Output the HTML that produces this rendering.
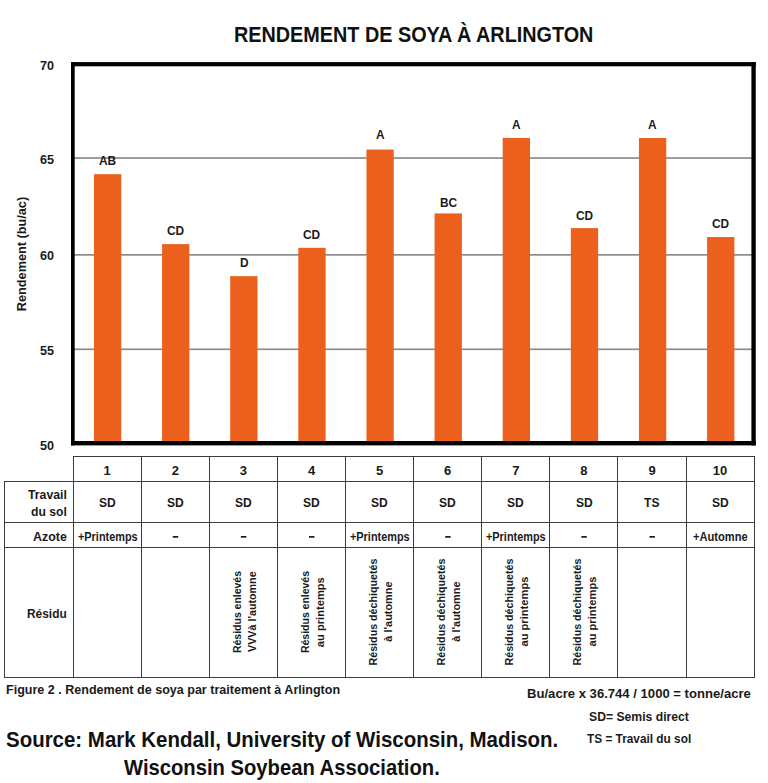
<!DOCTYPE html>
<html><head><meta charset="utf-8"><title>Rendement de soya à Arlington</title>
<style>
html,body{margin:0;padding:0;background:#fff}
body{width:768px;height:783px;position:relative;overflow:hidden;font-family:"Liberation Sans",sans-serif;color:#1a1a1a;font-weight:700}
.t{position:absolute;white-space:nowrap;transform-origin:left center;display:block}
.g{position:absolute;left:0;top:0;display:block}
.rot span{display:inline-block;transform-origin:center}
.rot{position:absolute;white-space:nowrap;font-size:10.5px;line-height:14.6px;text-align:center;transform:translate(-50%,-50%) rotate(-90deg);transform-origin:center}
</style></head><body>
<svg class="g" width="768" height="783" viewBox="0 0 768 783">
<rect x="74.00" y="157.20" width="678.00" height="1.70" fill="#8c8c8c"/>
<rect x="74.00" y="254.00" width="678.00" height="1.70" fill="#8c8c8c"/>
<rect x="74.00" y="348.45" width="678.00" height="1.70" fill="#8c8c8c"/>
<rect x="93.95" y="174.20" width="27.30" height="268.80" fill="#eb601c"/>
<rect x="162.07" y="244.10" width="27.30" height="198.90" fill="#eb601c"/>
<rect x="230.20" y="276.15" width="27.30" height="166.85" fill="#eb601c"/>
<rect x="298.32" y="247.80" width="27.30" height="195.20" fill="#eb601c"/>
<rect x="366.45" y="149.55" width="27.30" height="293.45" fill="#eb601c"/>
<rect x="434.57" y="213.40" width="27.30" height="229.60" fill="#eb601c"/>
<rect x="502.70" y="137.90" width="27.30" height="305.10" fill="#eb601c"/>
<rect x="570.83" y="228.10" width="27.30" height="214.90" fill="#eb601c"/>
<rect x="638.95" y="138.00" width="27.30" height="305.00" fill="#eb601c"/>
<rect x="707.08" y="237.05" width="27.30" height="205.95" fill="#eb601c"/>
<rect x="71.00" y="62.10" width="3.70" height="383.30" fill="#000"/>
<rect x="751.40" y="62.10" width="4.35" height="383.30" fill="#000"/>
<rect x="71.00" y="62.10" width="684.75" height="4.20" fill="#000"/>
<rect x="71.00" y="441.00" width="684.75" height="4.40" fill="#000"/>
<rect x="73.00" y="456.00" width="682.00" height="1.00" fill="#3c3c3c"/>
<rect x="4.00" y="481.00" width="751.00" height="1.00" fill="#3c3c3c"/>
<rect x="4.00" y="522.00" width="751.00" height="1.00" fill="#3c3c3c"/>
<rect x="4.00" y="547.00" width="751.00" height="1.00" fill="#3c3c3c"/>
<rect x="4.00" y="677.00" width="751.00" height="1.00" fill="#3c3c3c"/>
<rect x="4.00" y="481.00" width="1.00" height="197.00" fill="#3c3c3c"/>
<rect x="73.00" y="456.00" width="1.00" height="222.00" fill="#3c3c3c"/>
<rect x="141.00" y="456.00" width="1.00" height="222.00" fill="#3c3c3c"/>
<rect x="209.00" y="456.00" width="1.00" height="222.00" fill="#3c3c3c"/>
<rect x="277.00" y="456.00" width="1.00" height="222.00" fill="#3c3c3c"/>
<rect x="345.00" y="456.00" width="1.00" height="222.00" fill="#3c3c3c"/>
<rect x="413.00" y="456.00" width="1.00" height="222.00" fill="#3c3c3c"/>
<rect x="481.00" y="456.00" width="1.00" height="222.00" fill="#3c3c3c"/>
<rect x="549.00" y="456.00" width="1.00" height="222.00" fill="#3c3c3c"/>
<rect x="617.00" y="456.00" width="1.00" height="222.00" fill="#3c3c3c"/>
<rect x="686.00" y="456.00" width="1.00" height="222.00" fill="#3c3c3c"/>
<rect x="754.00" y="456.00" width="1.00" height="222.00" fill="#3c3c3c"/>
<rect x="172.80" y="536.00" width="5.40" height="1.70" fill="#1a1a1a"/>
<rect x="240.90" y="536.00" width="5.40" height="1.70" fill="#1a1a1a"/>
<rect x="309.00" y="536.00" width="5.40" height="1.70" fill="#1a1a1a"/>
<rect x="445.20" y="536.00" width="5.40" height="1.70" fill="#1a1a1a"/>
<rect x="581.40" y="536.00" width="5.40" height="1.70" fill="#1a1a1a"/>
<rect x="649.50" y="536.00" width="5.40" height="1.70" fill="#1a1a1a"/>
</svg>
<span class="t" style="left:99.02px;top:154px;font-size:12.5px;line-height:15px;transform:scaleX(0.9500)">AB</span>
<span class="t" style="left:167.15px;top:224px;font-size:12.5px;line-height:15px;transform:scaleX(0.9500)">CD</span>
<span class="t" style="left:239.56px;top:256px;font-size:12.5px;line-height:15px;transform:scaleX(0.9500)">D</span>
<span class="t" style="left:303.40px;top:228px;font-size:12.5px;line-height:15px;transform:scaleX(0.9500)">CD</span>
<span class="t" style="left:375.81px;top:128px;font-size:12.5px;line-height:15px;transform:scaleX(0.9500)">A</span>
<span class="t" style="left:439.65px;top:196px;font-size:12.5px;line-height:15px;transform:scaleX(0.9500)">BC</span>
<span class="t" style="left:512.06px;top:118px;font-size:12.5px;line-height:15px;transform:scaleX(0.9500)">A</span>
<span class="t" style="left:575.90px;top:209px;font-size:12.5px;line-height:15px;transform:scaleX(0.9500)">CD</span>
<span class="t" style="left:648.31px;top:118px;font-size:12.5px;line-height:15px;transform:scaleX(0.9500)">A</span>
<span class="t" style="left:712.15px;top:217px;font-size:12.5px;line-height:15px;transform:scaleX(0.9500)">CD</span>
<span class="t" style="left:40.47px;top:58px;font-size:13px;line-height:16px;transform:scaleX(0.9700)">70</span>
<span class="t" style="left:40.47px;top:152px;font-size:13px;line-height:16px;transform:scaleX(0.9700)">65</span>
<span class="t" style="left:40.47px;top:248px;font-size:13px;line-height:16px;transform:scaleX(0.9700)">60</span>
<span class="t" style="left:40.47px;top:343px;font-size:13px;line-height:16px;transform:scaleX(0.9700)">55</span>
<span class="t" style="left:40.47px;top:438px;font-size:13px;line-height:16px;transform:scaleX(0.9700)">50</span>
<span class="t" style="left:233.60px;top:22px;font-size:22px;line-height:26px;color:#111;transform:scaleX(0.9001)">RENDEMENT DE SOYA À ARLINGTON</span>
<span class="t" style="left:103.58px;top:463px;font-size:13px;line-height:16px;transform:scaleX(1.0000)">1</span>
<span class="t" style="left:98.80px;top:495px;font-size:13px;line-height:16px;transform:scaleX(0.9300)">SD</span>
<span class="t" style="left:77.80px;top:530px;font-size:12px;line-height:14px;transform:scaleX(0.9073)">+Printemps</span>
<span class="t" style="left:171.68px;top:463px;font-size:13px;line-height:16px;transform:scaleX(1.0000)">2</span>
<span class="t" style="left:166.90px;top:495px;font-size:13px;line-height:16px;transform:scaleX(0.9300)">SD</span>
<span class="t" style="left:239.78px;top:463px;font-size:13px;line-height:16px;transform:scaleX(1.0000)">3</span>
<span class="t" style="left:235.00px;top:495px;font-size:13px;line-height:16px;transform:scaleX(0.9300)">SD</span>
<span class="t" style="left:307.88px;top:463px;font-size:13px;line-height:16px;transform:scaleX(1.0000)">4</span>
<span class="t" style="left:303.10px;top:495px;font-size:13px;line-height:16px;transform:scaleX(0.9300)">SD</span>
<span class="t" style="left:375.98px;top:463px;font-size:13px;line-height:16px;transform:scaleX(1.0000)">5</span>
<span class="t" style="left:371.20px;top:495px;font-size:13px;line-height:16px;transform:scaleX(0.9300)">SD</span>
<span class="t" style="left:350.20px;top:530px;font-size:12px;line-height:14px;transform:scaleX(0.9073)">+Printemps</span>
<span class="t" style="left:444.08px;top:463px;font-size:13px;line-height:16px;transform:scaleX(1.0000)">6</span>
<span class="t" style="left:439.30px;top:495px;font-size:13px;line-height:16px;transform:scaleX(0.9300)">SD</span>
<span class="t" style="left:512.18px;top:463px;font-size:13px;line-height:16px;transform:scaleX(1.0000)">7</span>
<span class="t" style="left:507.40px;top:495px;font-size:13px;line-height:16px;transform:scaleX(0.9300)">SD</span>
<span class="t" style="left:486.40px;top:530px;font-size:12px;line-height:14px;transform:scaleX(0.9073)">+Printemps</span>
<span class="t" style="left:580.28px;top:463px;font-size:13px;line-height:16px;transform:scaleX(1.0000)">8</span>
<span class="t" style="left:575.50px;top:495px;font-size:13px;line-height:16px;transform:scaleX(0.9300)">SD</span>
<span class="t" style="left:648.38px;top:463px;font-size:13px;line-height:16px;transform:scaleX(1.0000)">9</span>
<span class="t" style="left:644.28px;top:495px;font-size:13px;line-height:16px;transform:scaleX(0.9300)">TS</span>
<span class="t" style="left:712.87px;top:463px;font-size:13px;line-height:16px;transform:scaleX(1.0000)">10</span>
<span class="t" style="left:711.70px;top:495px;font-size:13px;line-height:16px;transform:scaleX(0.9300)">SD</span>
<span class="t" style="left:693.10px;top:530px;font-size:12px;line-height:14px;transform:scaleX(0.9253)">+Automne</span>
<span class="t" style="left:28.07px;top:487px;font-size:13px;line-height:16px;transform:scaleX(0.9450)">Travail</span>
<span class="t" style="left:31.21px;top:504px;font-size:13px;line-height:16px;transform:scaleX(0.9350)">du sol</span>
<span class="t" style="left:33.20px;top:529px;font-size:13px;line-height:16px;transform:scaleX(0.9550)">Azote</span>
<span class="t" style="left:27.31px;top:606px;font-size:12.8px;line-height:15px;transform:scaleX(0.9300)">Résidu</span>
<span class="t" style="left:5.90px;top:683px;font-size:12px;line-height:14px;transform:scaleX(1.0453)">Figure 2 . Rendement de soya par traitement à Arlington</span>
<span class="t" style="left:527.20px;top:686px;font-size:13.4px;line-height:16px;transform:scaleX(0.9779)">Bu/acre x 36.744 / 1000 = tonne/acre</span>
<span class="t" style="left:589.20px;top:709px;font-size:13.5px;line-height:16px;transform:scaleX(0.9026)">SD= Semis direct</span>
<span class="t" style="left:587.00px;top:731px;font-size:13.5px;line-height:16px;transform:scaleX(0.8762)">TS = Travail du sol</span>
<span class="t" style="left:6.00px;top:727px;font-size:21.5px;line-height:26px;color:#111;transform:scaleX(0.9514)">Source: Mark Kendall, University of Wisconsin, Madison.</span>
<span class="t" style="left:124.20px;top:755px;font-size:21.5px;line-height:26px;color:#111;transform:scaleX(0.9401)">Wisconsin Soybean Association.</span>
<span class="t" style="left:21.7px;top:253.5px;font-size:12.6px;line-height:12.6px;transform:translate(-50%,-50%) rotate(-90deg) scaleX(1.0087);transform-origin:center">Rendement (bu/ac)</span>
<div class="rot" style="left:244.90px;top:612.0px"><span style="transform:scaleX(0.9964)">Résidus enlevés</span><br><span style="transform:scaleX(1.0211)">VVVà l'automne</span></div>
<div class="rot" style="left:313.00px;top:612.0px"><span style="transform:scaleX(0.9964)">Résidus enlevés</span><br><span style="transform:scaleX(1.0618)">au printemps</span></div>
<div class="rot" style="left:381.10px;top:612.0px"><span style="transform:scaleX(1.0187)">Résidus déchiquetés</span><br><span style="transform:scaleX(1.0393)">à l'automne</span></div>
<div class="rot" style="left:449.20px;top:612.0px"><span style="transform:scaleX(1.0187)">Résidus déchiquetés</span><br><span style="transform:scaleX(1.0393)">à l'automne</span></div>
<div class="rot" style="left:517.30px;top:612.0px"><span style="transform:scaleX(1.0187)">Résidus déchiquetés</span><br><span style="transform:scaleX(1.0618)">au printemps</span></div>
<div class="rot" style="left:585.40px;top:612.0px"><span style="transform:scaleX(1.0187)">Résidus déchiquetés</span><br><span style="transform:scaleX(1.0618)">au printemps</span></div>
</body></html>
